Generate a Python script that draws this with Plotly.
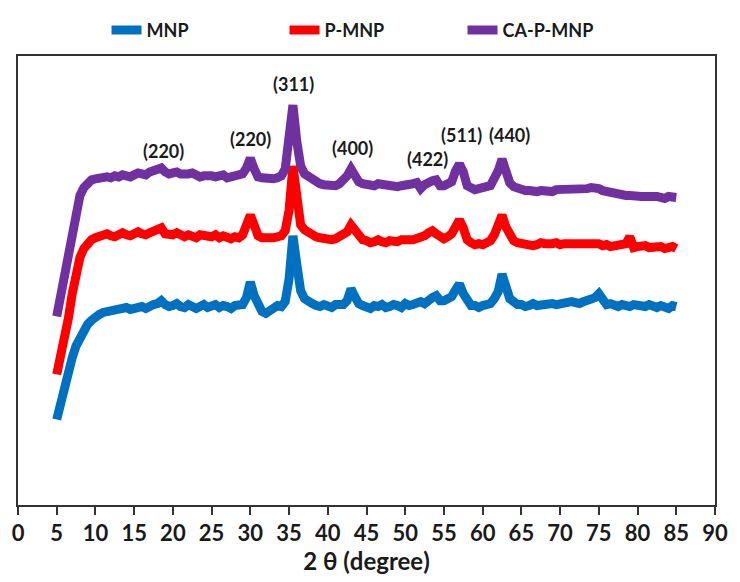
import plotly.graph_objects as go

# 2θ (degree) sample positions, shared by all three patterns
two_theta = [5.0, 5.5, 6.0, 6.5, 7.0, 7.5, 8.0, 8.5, 9.0, 9.5,
             10.0, 10.5, 11.0, 11.5, 12.0, 12.5, 13.0, 13.5, 14.0, 14.5,
             15.0, 15.5, 16.0, 16.5, 17.0, 17.5, 18.0, 18.5, 19.0, 19.5,
             20.0, 20.5, 21.0, 21.5, 22.0, 22.5, 23.0, 23.5, 24.0, 24.5,
             25.0, 25.5, 26.0, 26.5, 27.0, 27.5, 28.0, 28.5, 29.0, 29.5,
             30.0, 30.5, 31.0, 31.5, 32.0, 32.5, 33.0, 33.5, 34.0, 34.5,
             35.0, 35.5, 36.0, 36.5, 37.0, 37.5, 38.0, 38.5, 39.0, 39.5,
             40.0, 40.5, 41.0, 41.5, 42.0, 42.5, 43.0, 43.5, 44.0, 44.5,
             45.0, 45.5, 46.0, 46.5, 47.0, 47.5, 48.0, 48.5, 49.0, 49.5,
             50.0, 50.5, 51.0, 51.5, 52.0, 52.5, 53.0, 53.5, 54.0, 54.5,
             55.0, 55.5, 56.0, 56.5, 57.0, 57.5, 58.0, 58.5, 59.0, 59.5,
             60.0, 60.5, 61.0, 61.5, 62.0, 62.5, 63.0, 63.5, 64.0, 64.5,
             65.0, 65.5, 66.0, 66.5, 67.0, 67.5, 68.0, 68.5, 69.0, 69.5,
             70.0, 70.5, 71.0, 71.5, 72.0, 72.5, 73.0, 73.5, 74.0, 74.5,
             75.0, 75.5, 76.0, 76.5, 77.0, 77.5, 78.0, 78.5, 79.0, 79.5,
             80.0, 80.5, 81.0, 81.5, 82.0, 82.5, 83.0, 83.5, 84.0, 84.5,
             85.0]

# intensities (arbitrary units, stacked as in the figure)
mnp = [87, 105, 120, 137, 150, 162, 171, 178, 184, 188,
       192, 194, 196, 197, 199, 198, 200, 202, 201, 199,
       200, 203, 202, 200, 203, 204, 205, 208, 204, 202,
       203, 205, 202, 201, 204, 203, 200, 202, 204, 201,
       202, 204, 201, 203, 202, 200, 203, 204, 204, 211,
       227, 213, 203, 197, 195, 198, 200, 203, 202, 207,
       230, 274, 245, 218, 210, 206, 205, 203, 202, 204,
       202, 201, 204, 203, 204, 208, 220, 212, 205, 203,
       202, 200, 203, 202, 204, 201, 202, 204, 203, 201,
       205, 203, 204, 206, 207, 205, 209, 211, 213, 208,
       208, 210, 212, 219, 225, 215, 207, 203, 203, 201,
       203, 205, 205, 210, 217, 235, 220, 210, 207, 204,
       204, 202, 203, 205, 203, 204, 204, 206, 205, 204,
       205, 206, 206, 207, 206, 205, 207, 208, 209, 211,
       215, 207, 204, 205, 203, 202, 204, 203, 202, 204,
       203, 204, 202, 204, 203, 201, 203, 202, 200, 203,
       202]

p_mnp = [133, 150, 168, 190, 215, 235, 252, 261, 267, 270,
         272, 273, 274, 276, 274, 273, 275, 277, 275, 274,
         276, 278, 276, 275, 277, 279, 281, 282, 276, 275,
         275, 277, 274, 273, 275, 274, 272, 275, 274, 273,
         273, 275, 272, 274, 273, 271, 273, 272, 275, 283,
         295, 285, 274, 272, 271, 272, 272, 274, 274, 279,
         300, 345, 310, 285, 280, 277, 275, 273, 272, 271,
         271, 270, 271, 273, 275, 278, 285, 279, 273, 270,
         269, 267, 268, 270, 268, 267, 269, 268, 268, 270,
         269, 270, 270, 271, 272, 274, 277, 279, 276, 272,
         271, 273, 276, 283, 290, 282, 270, 267, 265, 266,
         265, 267, 269, 275, 283, 295, 283, 273, 269, 267,
         266, 267, 266, 264, 265, 267, 266, 265, 266, 267,
         265, 266, 266, 268, 267, 266, 266, 268, 267, 266,
         266, 264, 265, 263, 264, 266, 265, 266, 273, 262,
         263, 264, 264, 262, 262, 264, 263, 261, 262, 263,
         261]

ca_p_mnp = [192, 212, 232, 257, 282, 300, 315, 323, 328, 331,
            332, 333, 332, 334, 333, 335, 334, 336, 335, 334,
            336, 338, 337, 336, 339, 340, 341, 343, 339, 337,
            338, 339, 337, 336, 337, 338, 336, 334, 335, 336,
            335, 334, 334, 336, 333, 334, 334, 335, 337, 343,
            353, 342, 334, 333, 332, 331, 332, 333, 335, 342,
            370, 407, 370, 345, 337, 334, 331, 329, 327, 326,
            325, 324, 325, 327, 330, 335, 342, 335, 329, 327,
            326, 325, 325, 327, 326, 327, 326, 325, 324, 325,
            325, 327, 327, 328, 322, 326, 329, 330, 331, 325,
            325, 327, 329, 340, 347, 339, 325, 323, 321, 322,
            322, 324, 325, 332, 340, 352, 337, 328, 324, 322,
            321, 320, 320, 319, 319, 320, 319, 318, 319, 321,
            321, 320, 320, 321, 321, 322, 321, 322, 323, 323,
            322, 320, 319, 317, 317, 316, 316, 315, 315, 314,
            315, 314, 314, 313, 314, 314, 313, 312, 314, 313,
            313]

series_names = ["MNP", "P-MNP", "CA-P-MNP"]
series_colors = ["#0070C0", "#FF0000", "#7030A0"]

peak_labels = ["(220)", "(220)", "(311)", "(400)", "(422)", "(511)", "(440)"]
peak_label_x = [18.8, 30.0, 35.6, 43.2, 52.9, 57.3, 63.4]
peak_label_y = [360, 373, 428, 363, 352, 377, 377]

x_ticks = [0, 5, 10, 15, 20, 25, 30, 35, 40, 45, 50, 55, 60, 65, 70, 75, 80, 85, 90]

fig = go.Figure()
for name, ys, col in zip(series_names, [mnp, p_mnp, ca_p_mnp], series_colors):
    fig.add_trace(go.Scatter(x=two_theta, y=ys, mode="lines", name="<b>%s</b>" % name,
                             line=dict(color=col, width=9)))

for t, xv, yv in zip(peak_labels, peak_label_x, peak_label_y):
    fig.add_annotation(x=xv, y=yv, text="<b>%s</b>" % t, showarrow=False,
                       font=dict(family="Lato", size=18, color="#1a1a1a"),
                       xanchor="center", yanchor="middle")

fig.update_layout(
    width=740, height=582,
    margin=dict(l=18, r=16, t=48, b=77),
    paper_bgcolor="white", plot_bgcolor="white",
    font=dict(family="Lato", color="#1a1a1a"),
    showlegend=True,
    legend=dict(orientation="h", x=0.127, y=1.057, xanchor="left", yanchor="middle",
                entrywidth=133, entrywidthmode="pixels", itemwidth=30,
                font=dict(family="Lato", size=18, color="#1a1a1a"),
                bgcolor="rgba(0,0,0,0)"),
    xaxis=dict(range=[0, 90], tickmode="array", tickvals=x_ticks,
               ticktext=["<b>%d</b>" % v for v in x_ticks],
               ticks="outside", ticklen=8, tickwidth=1.5, tickcolor="#333",
               showline=True, linecolor="#333", linewidth=1.5, mirror=True,
               showgrid=False, zeroline=False,
               tickfont=dict(family="Lato", size=22, color="#1a1a1a"),
               title=dict(text="<b>2 θ (degree)</b>", font=dict(family="Lato", size=24, color="#1a1a1a"),
                          standoff=6)),
    yaxis=dict(range=[0, 457], showticklabels=False, ticks="",
               showline=True, linecolor="#333", linewidth=1.5, mirror=True,
               showgrid=False, zeroline=False),
)

fig.write_html("out.html")
